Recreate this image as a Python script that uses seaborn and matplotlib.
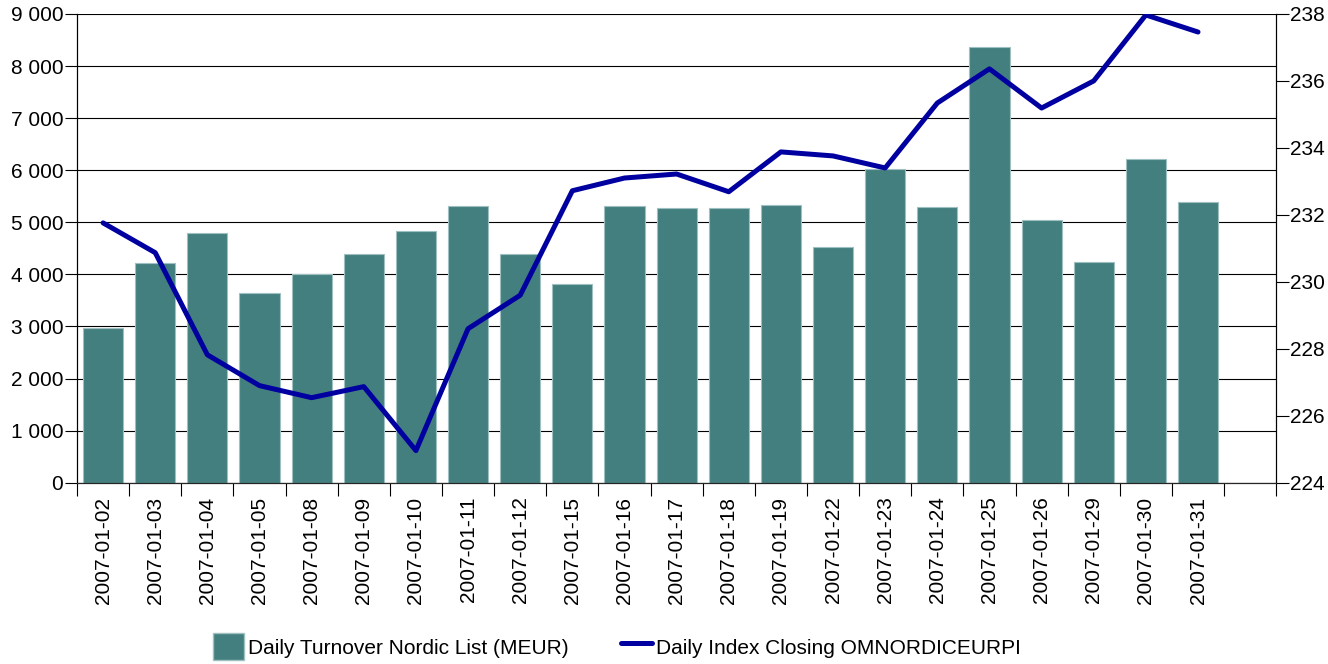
import numpy as np
import matplotlib
matplotlib.use("Agg")
import matplotlib.pyplot as plt
from matplotlib.ticker import FuncFormatter, FixedLocator
from matplotlib.patches import Patch
from matplotlib.lines import Line2D
import seaborn as sns

# --- data ---
dates = ["2007-01-02", "2007-01-03", "2007-01-04", "2007-01-05", "2007-01-08",
         "2007-01-09", "2007-01-10", "2007-01-11", "2007-01-12", "2007-01-15",
         "2007-01-16", "2007-01-17", "2007-01-18", "2007-01-19", "2007-01-22",
         "2007-01-23", "2007-01-24", "2007-01-25", "2007-01-26", "2007-01-29",
         "2007-01-30", "2007-01-31"]
turnover = [2980, 4220, 4800, 3650, 4010, 4400, 4840, 5320, 4400, 3820,
            5320, 5280, 5280, 5340, 4530, 6030, 5300, 8370, 5050, 4240,
            6220, 5390]
index_close = [231.76, 230.87, 227.82, 226.90, 226.54, 226.87, 224.96, 228.60,
               229.60, 232.72, 233.10, 233.22, 232.69, 233.88, 233.76, 233.40,
               235.34, 236.36, 235.19, 236.00, 237.97, 237.46]

bar_label = "Daily Turnover Nordic List (MEUR)"
line_label = "Daily Index Closing OMNORDICEURPI"
bar_color = "#437f7f"
line_color = "#0000a0"
fs = 15

sns.set_style("white")
plt.rcParams["font.family"] = ["Liberation Sans", "DejaVu Sans"]
plt.rcParams["text.color"] = "black"
plt.rcParams["xtick.color"] = "black"
plt.rcParams["ytick.color"] = "black"

fig = plt.figure(figsize=(13.28, 6.64), dpi=100)
ax = fig.add_axes([0.058, 0.273, 0.903, 0.706])

sns.barplot(x=dates, y=turnover, color=bar_color, saturation=1, width=0.77,
            edgecolor="#9fc0c0", linewidth=0.8, ax=ax)
ax.set_xlim(-0.5, len(dates) + 0.5)
ax.set_ylim(0, 9000)
ax.set_yticks(np.arange(0, 9001, 1000))
ax.yaxis.set_major_formatter(FuncFormatter(lambda v, p: f"{v:,.0f}".replace(",", " ")))
ax.yaxis.grid(True, color="black", linewidth=0.8)
ax.set_axisbelow(True)

# category labels centred on bars, tick marks on slot boundaries
ax.set_xticks(range(len(dates)))
ax.set_xticklabels(dates, rotation=90, fontsize=fs, color="black")
ax.tick_params(axis="x", which="major", length=0, pad=10)
ax.xaxis.set_minor_locator(FixedLocator(np.arange(-0.5, len(dates) + 1, 1)))
ax.tick_params(axis="x", which="minor", bottom=True, length=9, width=0.8, color="black")
ax.tick_params(axis="y", left=True, length=9, width=0.8, color="black",
               labelcolor="black", labelsize=fs, pad=1)
ax.set_xlabel("")
ax.set_ylabel("")

for side in ["left", "bottom", "right"]:
    ax.spines[side].set_color("black")
    ax.spines[side].set_linewidth(0.8)
ax.spines["top"].set_visible(False)

ax2 = ax.twinx()
sns.lineplot(x=np.arange(len(dates)), y=index_close, color=line_color,
             linewidth=3.6, ax=ax2)
ax2.set_ylim(224, 238)
ax2.set_yticks(np.arange(224, 239, 2))
ax2.tick_params(axis="y", right=True, length=9, width=0.8, color="black",
                labelcolor="black", labelsize=fs, pad=1)
ax2.set_ylabel("")
for side in ["left", "right"]:
    ax2.spines[side].set_color("black")
    ax2.spines[side].set_linewidth(0.8)
ax2.spines["top"].set_visible(False)

handles = [Patch(facecolor=bar_color, edgecolor="#9fc0c0", label=bar_label),
           Line2D([0], [0], color=line_color, linewidth=3.6, label=line_label)]
fig.legend(handles=handles, loc="center", bbox_to_anchor=(0.4646, 0.026),
           ncol=2, frameon=False, fontsize=fs, handlelength=1.5,
           handleheight=1.65, handletextpad=0.2, columnspacing=2.5,
           borderpad=0, borderaxespad=0)

plt.savefig("out.png", dpi=100)
plt.close()
